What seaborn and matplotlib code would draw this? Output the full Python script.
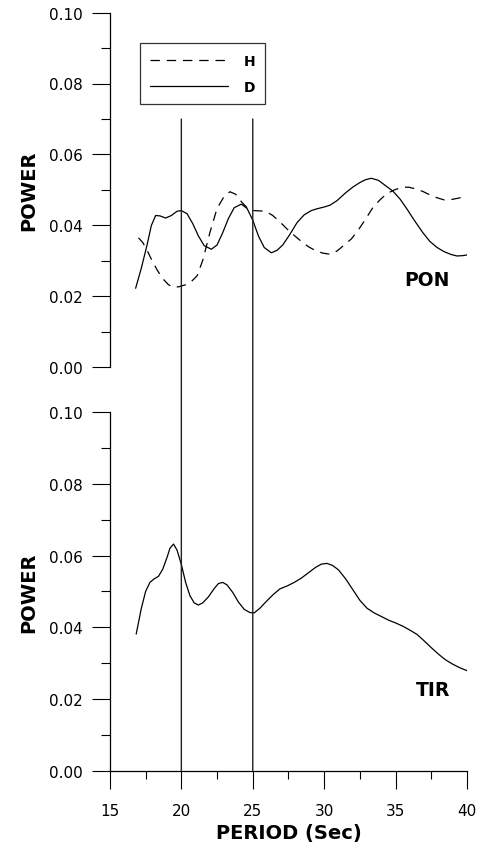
import numpy as np
import pandas as pd
import matplotlib
matplotlib.use("Agg")
import matplotlib.pyplot as plt
from matplotlib.ticker import MultipleLocator
from matplotlib.patches import ConnectionPatch
import seaborn as sns

# PON station, H component (dashed)
pon_h_period = [17.0, 17.3, 17.6, 17.9, 18.3, 18.7, 19.1, 19.5, 19.9, 20.3, 20.7, 21.1, 21.5,
                22.0, 22.5, 23.0, 23.4, 23.8, 24.2, 24.6, 25.0, 25.5, 25.9, 26.4, 26.9, 27.4,
                27.9, 28.4, 28.9, 29.4, 29.9, 30.4, 30.9, 31.4, 31.9, 32.4, 32.9, 33.4, 33.9,
                34.4, 34.9, 35.4, 35.9, 36.4, 36.9, 37.4, 37.9, 38.4, 38.9, 39.4, 40.0]
pon_h_power = [0.0365, 0.0352, 0.0330, 0.0305, 0.0275, 0.0250, 0.0233, 0.0225, 0.0228, 0.0233,
               0.0242, 0.0258, 0.0302, 0.0380, 0.0448, 0.0482, 0.0495, 0.0488, 0.0467, 0.0450,
               0.0442, 0.0441, 0.0440, 0.0428, 0.0410, 0.0390, 0.0372, 0.0355, 0.0340, 0.0329,
               0.0322, 0.0319, 0.0328, 0.0345, 0.0362, 0.0388, 0.0418, 0.0450, 0.0472, 0.0490,
               0.0500, 0.0507, 0.0508, 0.0503, 0.0496, 0.0486, 0.0478, 0.0472, 0.0473, 0.0477,
               0.0483]

# PON station, D component (solid)
pon_d_period = [16.8, 17.2, 17.6, 17.9, 18.2, 18.5, 18.9, 19.3, 19.7, 20.0, 20.4, 20.8, 21.2,
                21.6, 22.1, 22.5, 22.9, 23.3, 23.7, 24.2, 24.6, 25.0, 25.4, 25.8, 26.3, 26.7,
                27.1, 27.6, 28.1, 28.6, 29.1, 29.5, 30.0, 30.4, 30.9, 31.5, 32.0, 32.5, 32.9,
                33.3, 33.8, 34.3, 34.8, 35.3, 35.8, 36.3, 36.9, 37.4, 37.9, 38.4, 38.9, 39.3,
                39.7, 40.0]
pon_d_power = [0.0223, 0.0280, 0.0345, 0.0400, 0.0428, 0.0427, 0.0421, 0.0428, 0.0440, 0.0442,
               0.0433, 0.0405, 0.0370, 0.0343, 0.0333, 0.0345, 0.0380, 0.0420, 0.0450, 0.0460,
               0.0448, 0.0415, 0.0370, 0.0338, 0.0323, 0.0330, 0.0345, 0.0375, 0.0408, 0.0430,
               0.0442, 0.0447, 0.0452, 0.0457, 0.0470, 0.0492, 0.0508, 0.0521, 0.0529, 0.0533,
               0.0527, 0.0512, 0.0497, 0.0475, 0.0446, 0.0415, 0.0380, 0.0355, 0.0338, 0.0326,
               0.0318, 0.0314, 0.0315, 0.0317]

# TIR station (solid)
tir_period = [16.84, 17.2, 17.5, 17.8, 18.1, 18.4, 18.7, 19.0, 19.2, 19.45, 19.7, 20.0, 20.3,
              20.6, 20.9, 21.2, 21.5, 21.9, 22.3, 22.6, 22.9, 23.2, 23.6, 24.0, 24.4, 24.8,
              25.1, 25.5, 25.9, 26.4, 26.9, 27.4, 27.9, 28.4, 28.9, 29.4, 29.8, 30.2, 30.6,
              31.0, 31.5, 32.0, 32.5, 33.0, 33.5, 34.0, 34.5, 35.0, 35.5, 36.0, 36.5, 37.0,
              37.5, 38.0, 38.5, 39.0, 39.5, 40.0]
tir_power = [0.0381, 0.0453, 0.0500, 0.0525, 0.0535, 0.0542, 0.0562, 0.0595, 0.0620, 0.0632,
             0.0615, 0.0575, 0.0525, 0.0488, 0.0468, 0.0462, 0.0468, 0.0485, 0.0508, 0.0522,
             0.0525, 0.0518, 0.0497, 0.0470, 0.0450, 0.0441, 0.0440, 0.0453, 0.0470, 0.0490,
             0.0507, 0.0515, 0.0525, 0.0537, 0.0552, 0.0567, 0.0576, 0.0578, 0.0572, 0.0560,
             0.0535, 0.0505, 0.0475, 0.0453, 0.0440, 0.0430, 0.0420, 0.0412, 0.0403, 0.0392,
             0.0380, 0.0362, 0.0343, 0.0325, 0.0309, 0.0297, 0.0287, 0.0279]

marked_periods = [20, 25]

pon_h = pd.DataFrame({"period": pon_h_period, "power": pon_h_power})
pon_d = pd.DataFrame({"period": pon_d_period, "power": pon_d_power})
tir = pd.DataFrame({"period": tir_period, "power": tir_power})

sns.set_style("ticks")
plt.rcParams["font.family"] = ["DejaVu Sans"]
plt.rcParams.update({"text.color": "black", "axes.labelcolor": "black",
                     "xtick.color": "black", "ytick.color": "black",
                     "axes.edgecolor": "black"})

fig = plt.figure(figsize=(4.8, 8.45), dpi=100)
top = fig.add_axes([0.229, 0.564, 0.744, 0.420])
bot = fig.add_axes([0.229, 0.0867, 0.744, 0.4245])

sns.lineplot(data=pon_h, x="period", y="power", ax=top, color="black", lw=0.9,
             sort=False, label="H")
sns.lineplot(data=pon_d, x="period", y="power", ax=top, color="black", lw=0.9,
             sort=False, label="D")
sns.lineplot(data=tir, x="period", y="power", ax=bot, color="black", lw=0.9, sort=False)
top.lines[0].set_linestyle((0, (7.5, 5.5)))

for ax in (top, bot):
    ax.set_xlim(15, 40)
    ax.set_ylim(0, 0.10)
    ax.yaxis.set_major_locator(MultipleLocator(0.02))
    ax.yaxis.set_minor_locator(MultipleLocator(0.01))
    ax.yaxis.set_major_formatter(matplotlib.ticker.FormatStrFormatter("%.2f"))
    ax.tick_params(axis="y", which="major", direction="out", length=13, width=0.8,
                   pad=6.5, labelsize=11, colors="black")
    ax.tick_params(axis="y", which="minor", direction="out", length=6.5, width=0.8)
    ax.set_ylabel("POWER", fontsize=14, fontweight="bold", labelpad=8)
    for s in ("top", "right"):
        ax.spines[s].set_visible(False)
    ax.spines["left"].set_linewidth(0.9)

top.spines["bottom"].set_visible(False)
top.tick_params(axis="x", which="both", bottom=False, labelbottom=False)
top.set_xlabel("")

bot.spines["bottom"].set_linewidth(0.9)
bot.xaxis.set_major_locator(MultipleLocator(5))
bot.xaxis.set_minor_locator(MultipleLocator(2.5))
bot.tick_params(axis="x", which="major", direction="out", length=13, width=0.8,
                pad=10, labelsize=11, colors="black")
bot.tick_params(axis="x", which="minor", direction="out", length=6, width=0.8)
bot.set_xlabel("PERIOD (Sec)", fontsize=14, fontweight="bold", labelpad=4)

# station names
top.text(38.8, 0.0247, "PON", ha="right", va="center", fontsize=13.5, fontweight="bold")
bot.text(38.8, 0.0226, "TIR", ha="right", va="center", fontsize=13.5, fontweight="bold")

# reference periods running through both panels
for p in marked_periods:
    con = ConnectionPatch(xyA=(p, 0.07), coordsA=top.transData,
                          xyB=(p, 0.0), coordsB=bot.transData,
                          color="#222222", lw=1.0)
    fig.add_artist(con)

leg = top.legend(loc="upper left", bbox_to_anchor=(0.084, 0.913), borderaxespad=0,
                 fancybox=False, frameon=True, edgecolor="black", handlelength=5.6,
                 handletextpad=1.1, borderpad=0.75, labelspacing=0.85,
                 prop={"size": 10, "weight": "bold"})
leg.get_frame().set_linewidth(0.9)

fig.savefig("out.png", dpi=100)
